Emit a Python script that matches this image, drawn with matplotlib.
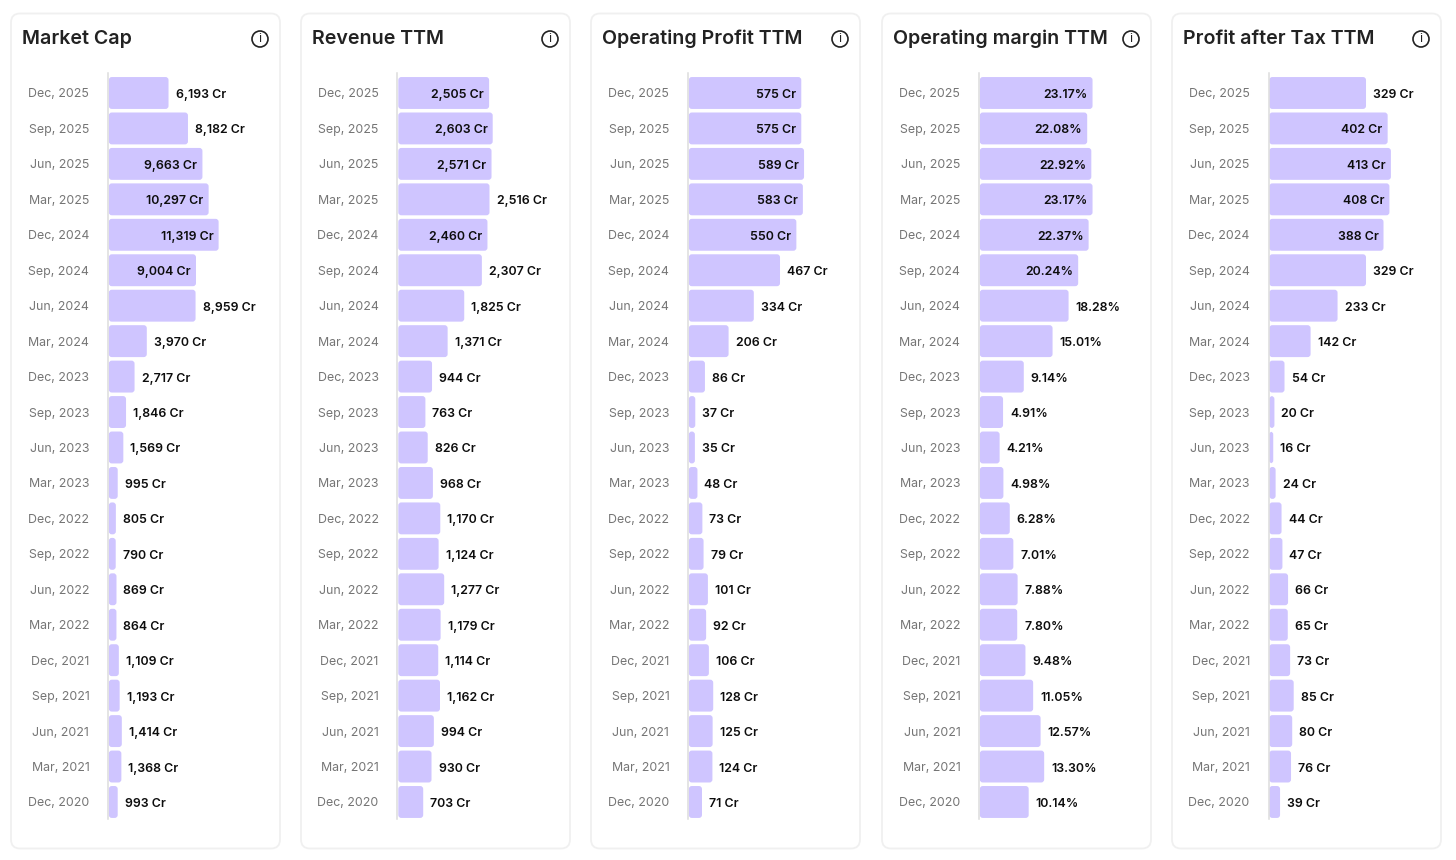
import matplotlib
matplotlib.use('Agg')
import matplotlib.pyplot as plt
from matplotlib.patches import FancyBboxPatch, Circle
from matplotlib.transforms import IdentityTransform

plt.rcParams['font.family'] = ['Inter', 'DejaVu Sans']

W, H = 1456, 860

quarters = ['Dec, 2025', 'Sep, 2025', 'Jun, 2025', 'Mar, 2025', 'Dec, 2024', 'Sep, 2024', 'Jun, 2024',
            'Mar, 2024', 'Dec, 2023', 'Sep, 2023', 'Jun, 2023', 'Mar, 2023', 'Dec, 2022', 'Sep, 2022',
            'Jun, 2022', 'Mar, 2022', 'Dec, 2021', 'Sep, 2021', 'Jun, 2021', 'Mar, 2021', 'Dec, 2020']

market_cap = [6193, 8182, 9663, 10297, 11319, 9004, 8959, 3970, 2717, 1846, 1569,
              995, 805, 790, 869, 864, 1109, 1193, 1414, 1368, 993]
revenue = [2505, 2603, 2571, 2516, 2460, 2307, 1825, 1371, 944, 763, 826,
           968, 1170, 1124, 1277, 1179, 1114, 1162, 994, 930, 703]
op_profit = [575, 575, 589, 583, 550, 467, 334, 206, 86, 37, 35,
             48, 73, 79, 101, 92, 106, 128, 125, 124, 71]
op_margin = [23.17, 22.08, 22.92, 23.17, 22.37, 20.24, 18.28, 15.01, 9.14, 4.91, 4.21,
             4.98, 6.28, 7.01, 7.88, 7.80, 9.48, 11.05, 12.57, 13.30, 10.14]
pat = [329, 402, 413, 408, 388, 329, 233, 142, 54, 20, 16,
       24, 44, 47, 66, 65, 73, 85, 80, 76, 39]

titles = ['Market Cap', 'Revenue TTM', 'Operating Profit TTM', 'Operating margin TTM', 'Profit after Tax TTM']
series = [market_cap, revenue, op_profit, op_margin, pat]
# which rows have the label sitting inside the bar
inside = [[2, 3, 4, 5], [0, 1, 2, 4], [0, 1, 2, 3, 4], [0, 1, 2, 3, 4, 5], [1, 2, 3, 4]]

card_left = [11, 301, 591, 882, 1172]
base_x = [108, 397.5, 688, 979, 1268.5]
x_max = [17600, 4717, 873, 35.1, 582]

BAR = '#cfc5ff'
CARD_EDGE = '#f0f0f0'

fig = plt.figure(figsize=(W / 100, H / 100), dpi=100, facecolor='white')

# background layer in pixels for the cards and the info icons
bg = fig.add_axes([0, 0, 1, 1])
bg.set_xlim(0, W)
bg.set_ylim(H, 0)
bg.axis('off')


def fmt(v, is_pct):
    if is_pct:
        return f'{v:.2f}%'
    return f'{v:,} Cr'


for i, title in enumerate(titles):
    cx = card_left[i]
    bg.add_patch(FancyBboxPatch((cx, 13.5), 269, 835, boxstyle='round,pad=0,rounding_size=9',
                                fc='white', ec=CARD_EDGE, lw=1.3))
    bg.text(cx + 11, 39, title, fontsize=14.1, fontweight='semibold', color='#222222', va='center', ha='left')
    bg.add_patch(Circle((cx + 249, 39), 8, fc='white', ec='#222222', lw=1.2))
    bg.text(cx + 249, 39.5, 'i', fontsize=9, color='#222222', ha='center', va='center')

    # axes run from the bar base to the right side of the card
    ax = fig.add_axes([base_x[i] / W, 1 - 819 / H, (cx + 269 - base_x[i]) / W, (819 - 73) / H])
    ax.patch.set_alpha(0)
    vals = series[i]
    ypos = list(range(len(vals)))
    bars = ax.barh(ypos, vals, height=0.9, color=BAR)
    ax.set_xlim(0, x_max[i])
    ax.set_ylim(20.48, -0.564)
    ax.set_yticks(ypos)
    ax.set_yticklabels(quarters, fontsize=8.9, color='#757575')
    ax.tick_params(axis='y', length=0, pad=13.5)
    ax.tick_params(axis='x', bottom=False, labelbottom=False)
    for s in ['top', 'right', 'bottom']:
        ax.spines[s].set_visible(False)
    ax.spines['left'].set_color('#dddddd')
    ax.spines['left'].set_linewidth(1.1)

    # swap the square bars for rounded ones at the same place
    for r in bars:
        r.set_visible(False)
        (x0, y0) = ax.transData.transform((r.get_x(), r.get_y()))
        (x1, y1) = ax.transData.transform((r.get_x() + r.get_width(), r.get_y() + r.get_height()))
        box = FancyBboxPatch((x0 + 0.8, min(y0, y1)), x1 - x0 - 0.8, abs(y1 - y0),
                             boxstyle='round,pad=0,rounding_size=3', fc=BAR, ec='none',
                             transform=IdentityTransform())
        ax.add_patch(box)

    is_pct = vals is op_margin
    for j, v in enumerate(vals):
        if j in inside[i]:
            off, ha = -5, 'right'
        else:
            off, ha = 7, 'left'
        ax.annotate(fmt(v, is_pct), (v, j), xytext=(off, -2), textcoords='offset pixels',
                    ha=ha, va='center', fontsize=8.9, fontweight='semibold', color='#0d0d0d')

fig.savefig('out.png', dpi=100)
